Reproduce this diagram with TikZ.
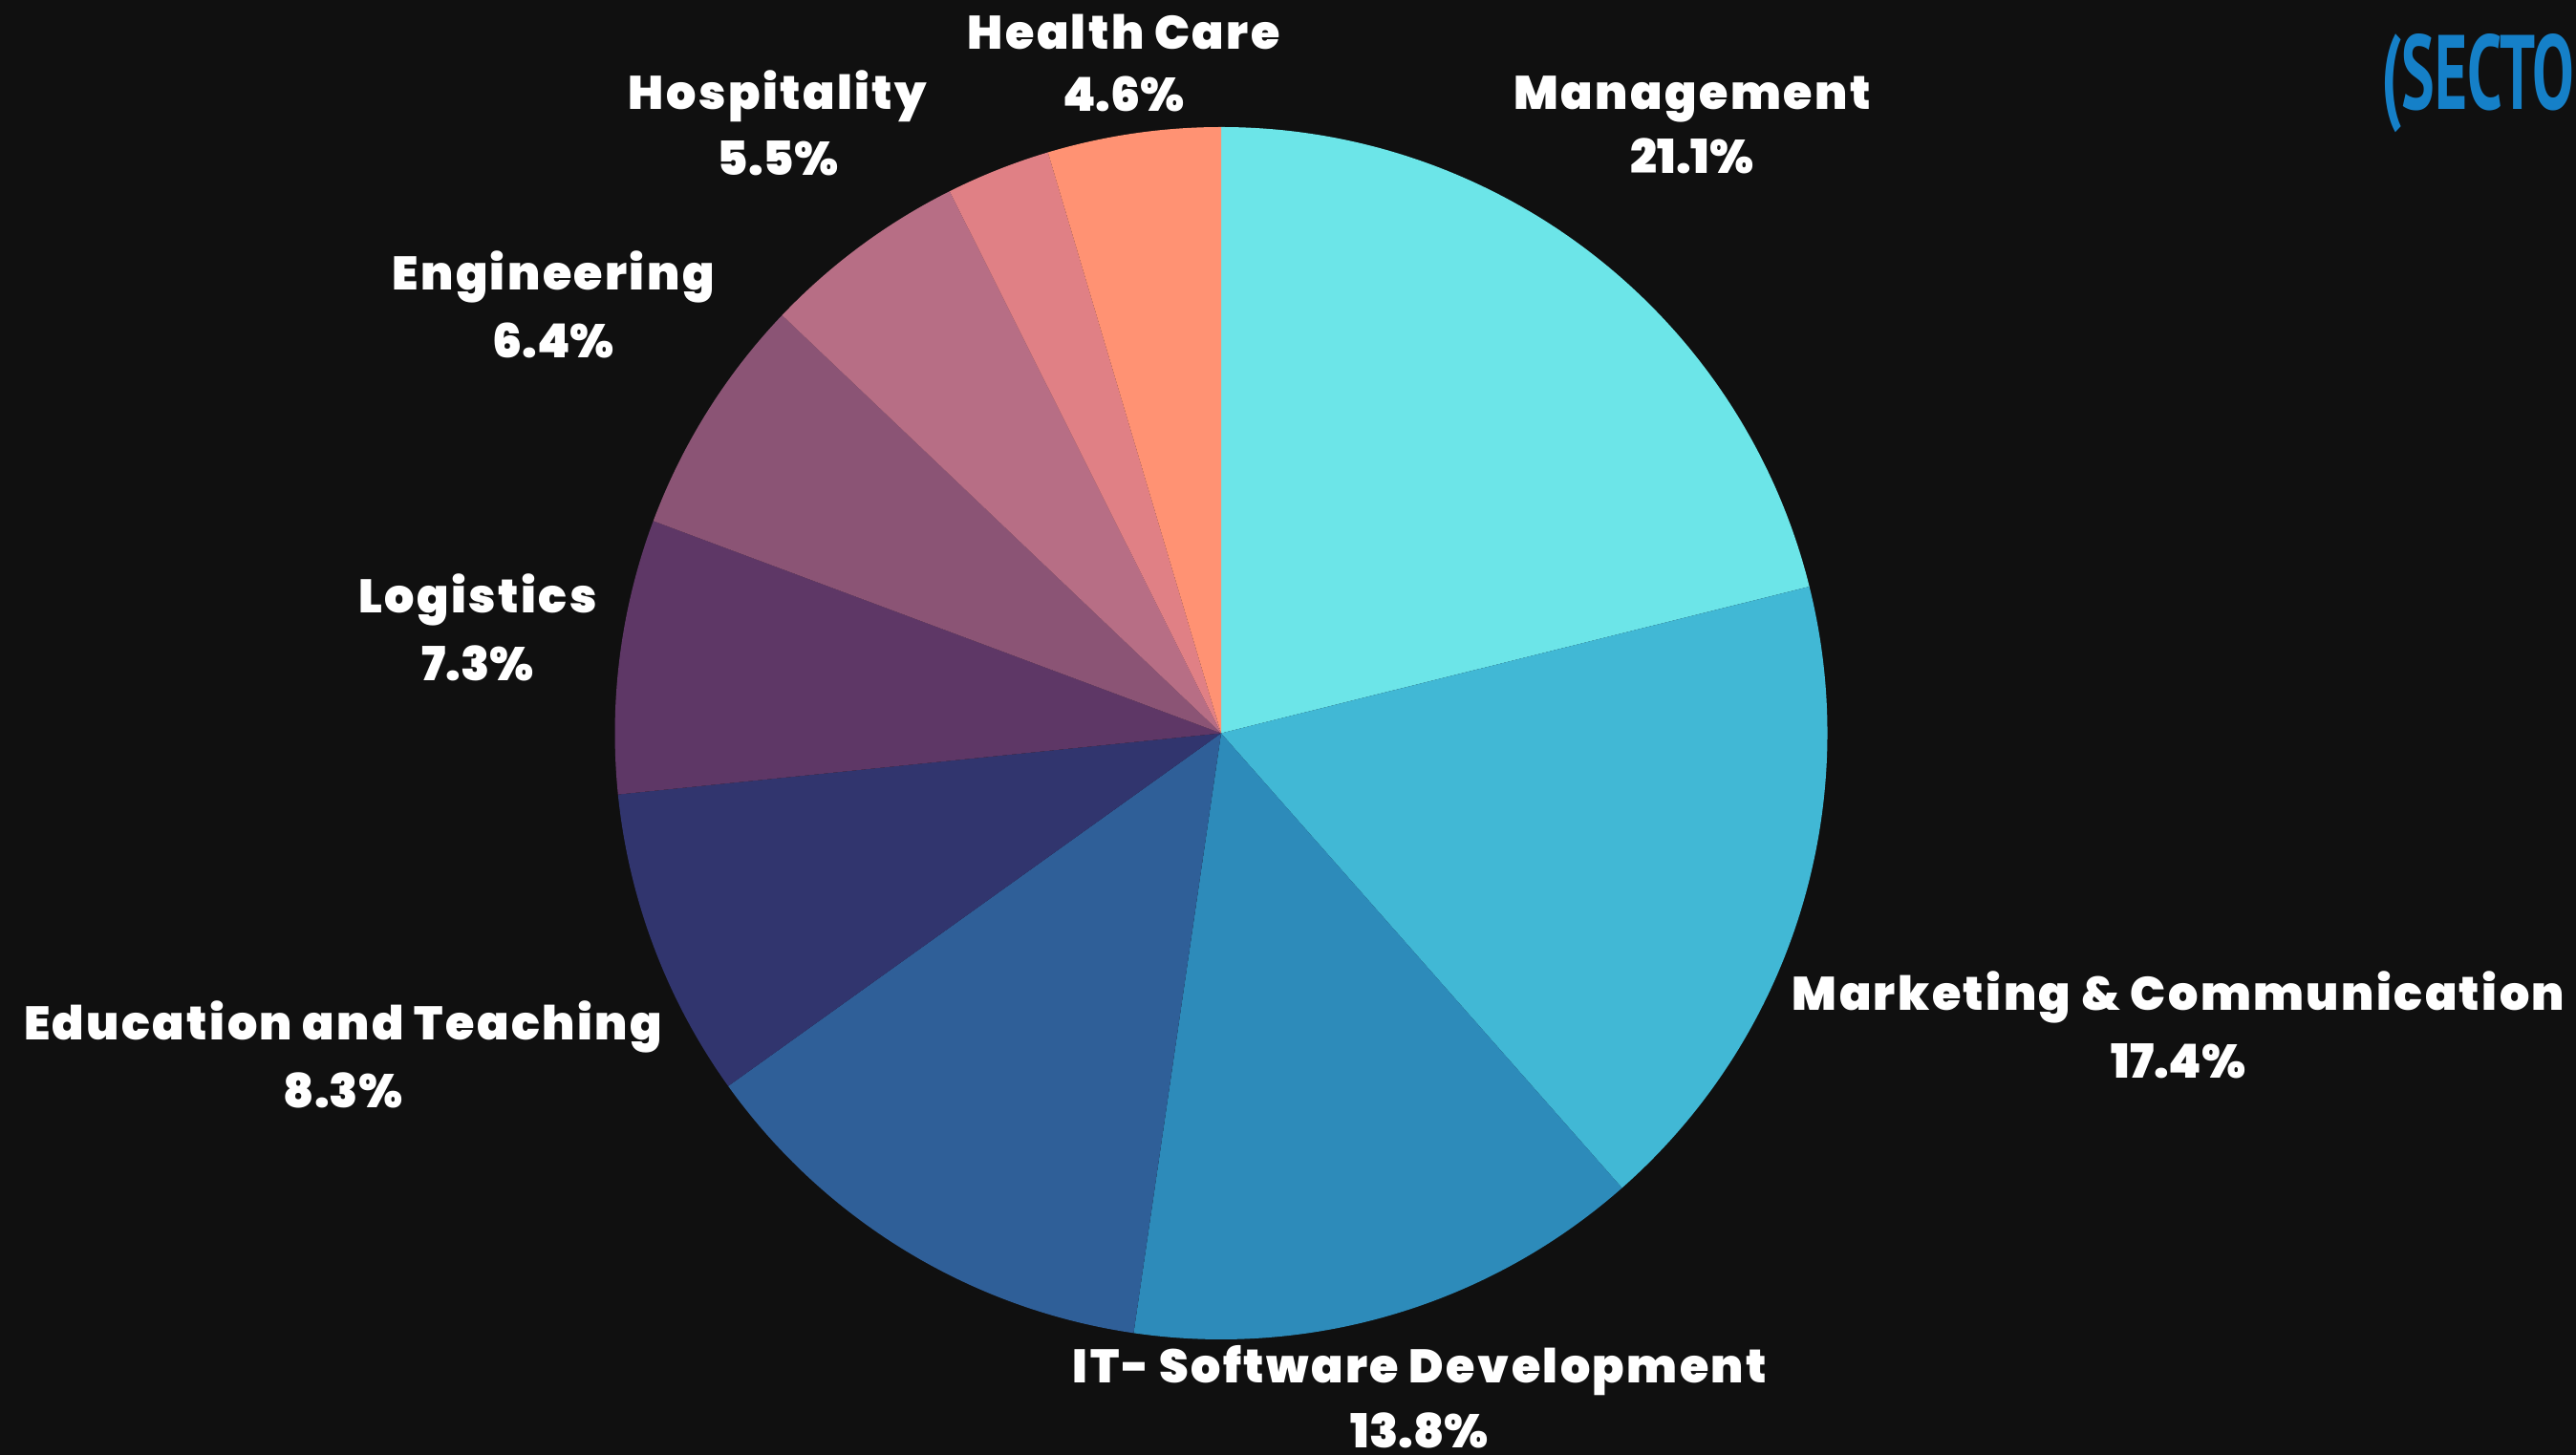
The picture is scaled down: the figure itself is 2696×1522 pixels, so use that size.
\documentclass[tikz,border=0pt]{standalone}
\usepackage{fontspec}
\usepackage{graphicx}
\setmainfont{Poppins}[UprightFont=* Black]
\newfontfamily\sectorfont{PT Sans}[UprightFont=* Bold]
\newcommand\wideline[1]{{\addfontfeature{LetterSpace=5}#1}}
\definecolor{bgc}{HTML}{101010}
\definecolor{wa}{HTML}{6CE5E8}
\definecolor{wb}{HTML}{41B8D5}
\definecolor{wc}{HTML}{2D8BBA}
\definecolor{wd}{HTML}{2F5F98}
\definecolor{we}{HTML}{31356E}
\definecolor{wf}{HTML}{5E3766}
\definecolor{wg}{HTML}{8B5475}
\definecolor{wh}{HTML}{B76E85}
\definecolor{wi}{HTML}{E08085}
\definecolor{wj}{HTML}{FF9273}
\definecolor{sectorblue}{HTML}{1580C8}
\tikzset{
  x=0.02cm,y=0.02cm,
  pielabel/.style={text=white,align=center,inner sep=0pt,
    font=\fontsize{28}{40.5}\selectfont}
}
\begin{document}
\begin{tikzpicture}
\useasboundingbox (0,0) rectangle (2696,1522);
\fill[bgc] (-6,-6) rectangle (2702,1528);
\coordinate (C) at (1278,754.5);
\foreach \a/\b/\c in {0/76/wa,76/138.6/wb,138.6/188.3/wc,188.3/234.4/wd,234.4/264.2/we,264.2/290.5/wf,290.5/313.6/wg,313.6/333.4/wh,333.4/343.4/wi,343.4/360/wj}{
  \fill[\c] (C) -- ++({90-\a}:634.5) arc[start angle={90-\a},end angle={90-\b},radius=634.5] -- cycle;
}
\node[pielabel,font=\fontsize{28}{37}\selectfont] (health) at (1176,1456) {\wideline{Health Care}\\4.6\%};
\node[pielabel,font=\fontsize{28}{39}\selectfont] (hosp) at (814,1393) {\wideline{Hospitality}\\5.5\%};
\node[pielabel,font=\fontsize{28}{38.5}\selectfont] (mgmt) at (1771,1391) {\wideline{Management}\\21.1\%};
\node[pielabel] (eng) at (579,1203) {\wideline{Engineering}\\6.4\%};
\node[pielabel] (logi) at (500,865) {\wideline{Logistics}\\7.3\%};
\node[pielabel] (edu) at (359,418) {\wideline{Education and Teaching}\\8.3\%};
\node[pielabel] (mkt) at (2280,449) {\wideline{Marketing \& Communication}\\17.4\%};
\node[pielabel,font=\fontsize{28}{38.5}\selectfont] (itsw) at (1486,60) {\wideline{IT- Software Development}\\13.8\%};
\node[anchor=base west,inner sep=0pt,text=sectorblue] (sector) at (2492,1407) {\scalebox{0.59}[1]{\sectorfont\fontsize{63}{66}\selectfont (SECTO}};
\end{tikzpicture}
\end{document}
